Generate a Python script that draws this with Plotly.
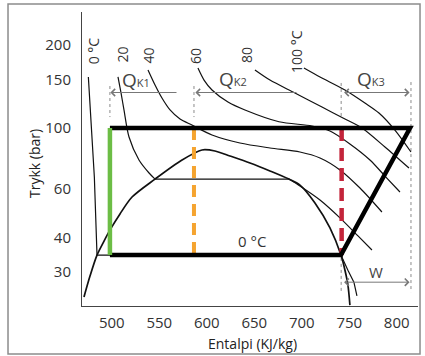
import math
import plotly.graph_objects as go

# ---------------- data (enthalpy kJ/kg, pressure bar) ----------------
x_ticks = [500, 550, 600, 650, 700, 750, 800]
y_ticks = [30, 40, 60, 100, 150, 200]

dome_h = [470.7, 477.1, 484.4, 491.8, 498.1, 508.6, 521.3, 545.5, 573.9, 594.9,
          608.6, 624.4, 645.5, 666.5, 686.5, 698.1, 713.9, 729.7, 741.3, 745.5, 748.6, 750.7]
dome_p = [24.3, 29.0, 34.5, 38.8, 42.6, 48.7, 56.1, 65.2, 76.5, 83.2,
          82.5, 79.1, 74.6, 69.8, 65.2, 62.0, 53.4, 43.3, 34.5, 30.4, 26.9, 22.7]

iso0_h = [475.3, 478.1, 481.6, 484.4, 741.3, 748.6, 754.9, 758.1]
iso0_p = [153.3, 106.9, 66.3, 34.5, 34.5, 30.4, 27.5, 24.5]

iso20_liq_h = [506.5, 509.7, 512.8, 518.1, 528.6, 539.2, 545.5]
iso20_liq_p = [153.3, 134.1, 116.3, 92.7, 76.5, 68.6, 65.2]
iso20_vap_h = [686.5, 698.1, 719.2, 740.2, 759.2, 773.9]
iso20_vap_p = [65.2, 61.5, 54.7, 47.1, 40.5, 36.0]

iso40_h = [538.1, 545.5, 552.8, 561.3, 571.8, 584.4, 605.5, 634.9, 666.5, 698.1, 719.2, 740.2, 761.3, 784.4]
iso40_p = [162.5, 143.3, 128.5, 116.3, 107.8, 102.5, 94.3, 88.2, 84.6, 81.8, 77.8, 70.4, 60.5, 49.5]

iso60_h = [590.7, 597.1, 605.5, 622.3, 640.2, 676.0, 710.7, 729.7, 750.7, 771.8, 788.6, 803.4]
iso60_p = [165.2, 149.4, 137.5, 124.3, 116.3, 105.4, 101.7, 97.5, 87.5, 76.5, 66.3, 58.5]

iso80_h = [650.7, 666.5, 692.8, 721.3, 745.5, 763.4, 787.6, 812.9]
iso80_p = [162.5, 149.4, 134.1, 119.2, 107.8, 100.0, 85.3, 71.5]

iso100_h = [702.3, 719.2, 745.5, 766.5, 781.3, 798.1, 815.0]
iso100_p = [165.2, 153.3, 137.5, 123.3, 113.4, 98.3, 81.8]

# cycle
p_high = 100.0
p_low = 34.5
h_gascooler_out = 498.0
h_evap_out = 741.3
h_discharge = 814.0
h_qk1 = 586.5
h_qk2 = 742.0

# heat-flow arrows
p_arrow_q = 134.6
p_arrow_w = 27.5
qk1_tail, qk1_tip = 569.7, 498.5
qk2_tail, qk2_tip = 696.0, 588.0
qk3_start, qk3_end = 743.0, 813.5
w_start, w_end = 743.0, 813.5

# dotted guide lines (h, p_top, p_bottom)
guides = [
    (498.0, 142.1, 109.6),
    (586.5, 142.1, 109.6),
    (741.5, 145.8, 108.7),
    (741.5, 33.7, 25.3),
    (815.0, 146.9, 25.3),
]

# ---------------- figure ----------------
fig = go.Figure()
thin = dict(color='#111', width=1.2)

def add_line(h, p, line, shape='linear', smoothing=1.0):
    fig.add_trace(go.Scatter(x=h, y=p, mode='lines', line=dict(**line, shape=shape,
                             smoothing=smoothing if shape == 'spline' else None),
                             hoverinfo='skip'))

for gh, pt, pb in guides:
    add_line([gh, gh], [pt, pb], dict(color='#8a8a8a', width=1, dash='dot'))

add_line(dome_h, dome_p, dict(color='#111', width=1.7), 'spline', 0.8)
add_line(iso0_h, iso0_p, thin)
add_line(iso20_liq_h, iso20_liq_p, thin, 'spline', 0.8)
add_line([iso20_liq_h[-1], iso20_vap_h[0]], [iso20_liq_p[-1], iso20_vap_p[0]], thin)
add_line(iso20_vap_h, iso20_vap_p, thin, 'spline', 0.8)
add_line(iso40_h, iso40_p, thin, 'spline', 0.8)
add_line(iso60_h, iso60_p, thin, 'spline', 0.8)
add_line(iso80_h, iso80_p, thin, 'spline', 0.8)
add_line(iso100_h, iso100_p, thin, 'spline', 0.8)

add_line([h_qk1, h_qk1], [p_high, p_low], dict(color='#f5a430', width=4, dash='12px,7px'))
add_line([h_qk2, h_qk2], [p_high, p_low], dict(color='#c3243a', width=4.5, dash='13px,7px'))

add_line([h_gascooler_out, h_discharge, h_evap_out, h_gascooler_out],
         [p_high, p_high, p_low, p_low], dict(color='#000', width=4.5))
add_line([h_gascooler_out, h_gascooler_out], [p_high, p_low], dict(color='#6cbd45', width=4.5))

# arrows
L = math.log10
arrow_common = dict(xref='x', yref='y', axref='x', ayref='y', text='', showarrow=True,
                    arrowcolor='#777', arrowwidth=1, arrowsize=1.4)
fig.add_annotation(x=qk1_tip, y=L(p_arrow_q), ax=qk1_tail, ay=L(p_arrow_q), arrowhead=4, **arrow_common)
fig.add_annotation(x=qk2_tip, y=L(p_arrow_q), ax=qk2_tail, ay=L(p_arrow_q), arrowhead=4, **arrow_common)
fig.add_annotation(x=qk3_end, y=L(p_arrow_q), ax=qk3_start, ay=L(p_arrow_q), arrowhead=4,
                   startarrowhead=4, arrowside='end+start', startarrowsize=1.4, **arrow_common)
fig.add_annotation(x=w_end, y=L(p_arrow_w), ax=w_start, ay=L(p_arrow_w), arrowhead=4,
                   startarrowhead=4, arrowside='end+start', startarrowsize=1.4, **arrow_common)

txt = dict(xref='x', yref='y', showarrow=False, xanchor='center', yanchor='middle',
           font=dict(size=14, color='#333'))
fig.add_annotation(x=480.5, y=L(190.5), text='0 °C', textangle=-90, **txt)
fig.add_annotation(x=511.3, y=L(184.3), text='20', textangle=-90, **txt)
fig.add_annotation(x=538.6, y=L(184.3), text='40', textangle=-90, **txt)
fig.add_annotation(x=587.6, y=L(182.7), text='60', textangle=-90, **txt)
fig.add_annotation(x=642.3, y=L(184.3), text='80', textangle=-90, **txt)
fig.add_annotation(x=695.0, y=L(189.0), text='100 °C', textangle=-90, **txt)
fig.add_annotation(x=647.6, y=L(38.8), text='0 °C', xref='x', yref='y', showarrow=False,
                   font=dict(size=15, color='#333'))
fig.add_annotation(x=778.1, y=L(29.9), text='W', xref='x', yref='y', showarrow=False,
                   font=dict(size=15, color='#444'))

qtxt = dict(xref='x', yref='y', showarrow=False, xanchor='left', yanchor='middle',
            font=dict(size=19, color='#444'))
fig.add_annotation(x=508.6, y=L(149.4), text="Q<span style='font-size:11px'>K1</span>", **qtxt)
fig.add_annotation(x=610.7, y=L(150.8), text="Q<span style='font-size:11px'>K2</span>", **qtxt)
fig.add_annotation(x=756.0, y=L(150.8), text="Q<span style='font-size:11px'>K3</span>", **qtxt)

# axis titles
fig.add_annotation(xref='paper', yref='paper', x=-0.1399, y=0.4864, text='Trykk (bar)', textangle=-90,
                   xanchor='center', yanchor='middle',
                   showarrow=False, font=dict(size=14, color='#222'))
fig.add_annotation(xref='paper', yref='paper', x=0.506, y=-0.126, text='Entalpi (KJ/kg)',
                   xanchor='center', yanchor='middle',
                   showarrow=False, font=dict(size=14, color='#222'))

# outer frame
fig.add_shape(type='rect', xref='paper', yref='paper', x0=-0.2202, x1=1.006, y0=-0.1633, y1=1.0272,
              line=dict(color='#8c8c8c', width=1.5))

fig.update_layout(
    width=425, height=356,
    margin=dict(l=82, r=7, t=12, b=50),
    paper_bgcolor='white', plot_bgcolor='white',
    showlegend=False,
    font=dict(family='Open Sans, sans-serif', size=15, color='#333'),
    xaxis=dict(range=[468.6, 822.4], tickvals=x_ticks, showgrid=False, zeroline=False,
               showline=True, linecolor='#444', linewidth=1, ticks='outside', ticklen=3,
               tickcolor='rgba(0,0,0,0)', tickfont=dict(size=15, color='#333')),
    yaxis=dict(type='log', range=[1.3527, 2.4218], tickvals=y_ticks,
               ticktext=[str(v) for v in y_ticks], showgrid=False, zeroline=False,
               showline=True, linecolor='#444', linewidth=1, ticks='outside', ticklen=7,
               tickcolor='rgba(0,0,0,0)', tickfont=dict(size=15, color='#333')),
)

fig.write_html('out.html', config={'displayModeBar': False},
               post_script="document.body.style.margin='0';document.body.style.overflow='hidden';")
